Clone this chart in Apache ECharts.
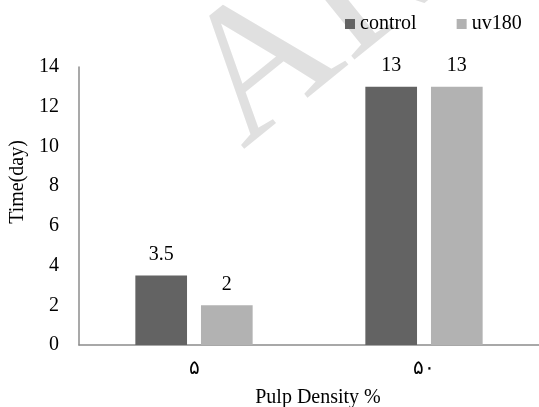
<!DOCTYPE html>
<html>
<head>
<meta charset="utf-8">
<script src="https://cdn.jsdelivr.net/npm/echarts@6/dist/echarts.min.js"></script>
<style>html,body{margin:0;padding:0;background:#fff}#c{width:539px;height:407px}</style>
</head>
<body>
<div id="c"></div>
<script>
const categories = ['۵', '۵۰'];
const controlValues = [3.5, 13];
const uv180Values = [2, 13];
const seriesNames = ['control', 'uv180'];
const yTicks = [0, 2, 4, 6, 8, 10, 12, 14];

const FONT = 'Liberation Serif';
const chart = echarts.init(document.getElementById('c'), null, {renderer: 'canvas'});
chart.setOption({
  animation: false,
  backgroundColor: '#fff',
  textStyle: {fontFamily: FONT},
  graphic: [
    {type: 'text', x: 271, y: 185, rotation: 0.68, z: -10, silent: true,
     style: {text: 'ARCHIVE', fill: '#e0e0e0', fontFamily: FONT, fontSize: 190, align: 'left', verticalAlign: 'bottom'}},
    {type: 'text', x: 18, y: 182, rotation: Math.PI / 2,
     style: {text: 'Time(day)', fill: '#000', fontFamily: FONT, fontSize: 20, align: 'center', verticalAlign: 'middle'}},
    {type: 'text', x: 318, y: 398,
     style: {text: 'Pulp Density %', fill: '#000', fontFamily: FONT, fontSize: 20, align: 'center', verticalAlign: 'middle'}}
  ],
  legend: {
    left: 345, top: 14, itemWidth: 10, itemHeight: 10, itemGap: 40, icon: 'rect', padding: 0,
    textStyle: {fontFamily: FONT, fontSize: 20, color: '#000'},
    data: seriesNames
  },
  grid: {left: 79, top: 67, width: 462, height: 278, containLabel: false},
  xAxis: {
    type: 'category', data: categories,
    axisLine: {lineStyle: {color: '#8c8c8c', width: 1.5}},
    axisTick: {show: false},
    axisLabel: {fontFamily: FONT, fontSize: 20, color: '#000', margin: 14}
  },
  yAxis: {
    type: 'value', min: 0, max: 14, interval: 2,
    axisLine: {show: true, lineStyle: {color: '#8c8c8c', width: 1.5}},
    axisTick: {show: false},
    splitLine: {show: false},
    axisLabel: {fontFamily: FONT, fontSize: 20, color: '#000', margin: 20,
      formatter: v => yTicks.includes(v) ? String(v) : ''}
  },
  series: [
    {name: seriesNames[0], type: 'bar', data: controlValues, barGap: '27%', barCategoryGap: '49%',
     itemStyle: {color: '#636363'},
     label: {show: true, position: 'top', distance: 11, fontFamily: FONT, fontSize: 20, color: '#000'}},
    {name: seriesNames[1], type: 'bar', data: uv180Values,
     itemStyle: {color: '#b2b2b2'},
     label: {show: true, position: 'top', distance: 11, fontFamily: FONT, fontSize: 20, color: '#000'}}
  ]
});
</script>
</body>
</html>
